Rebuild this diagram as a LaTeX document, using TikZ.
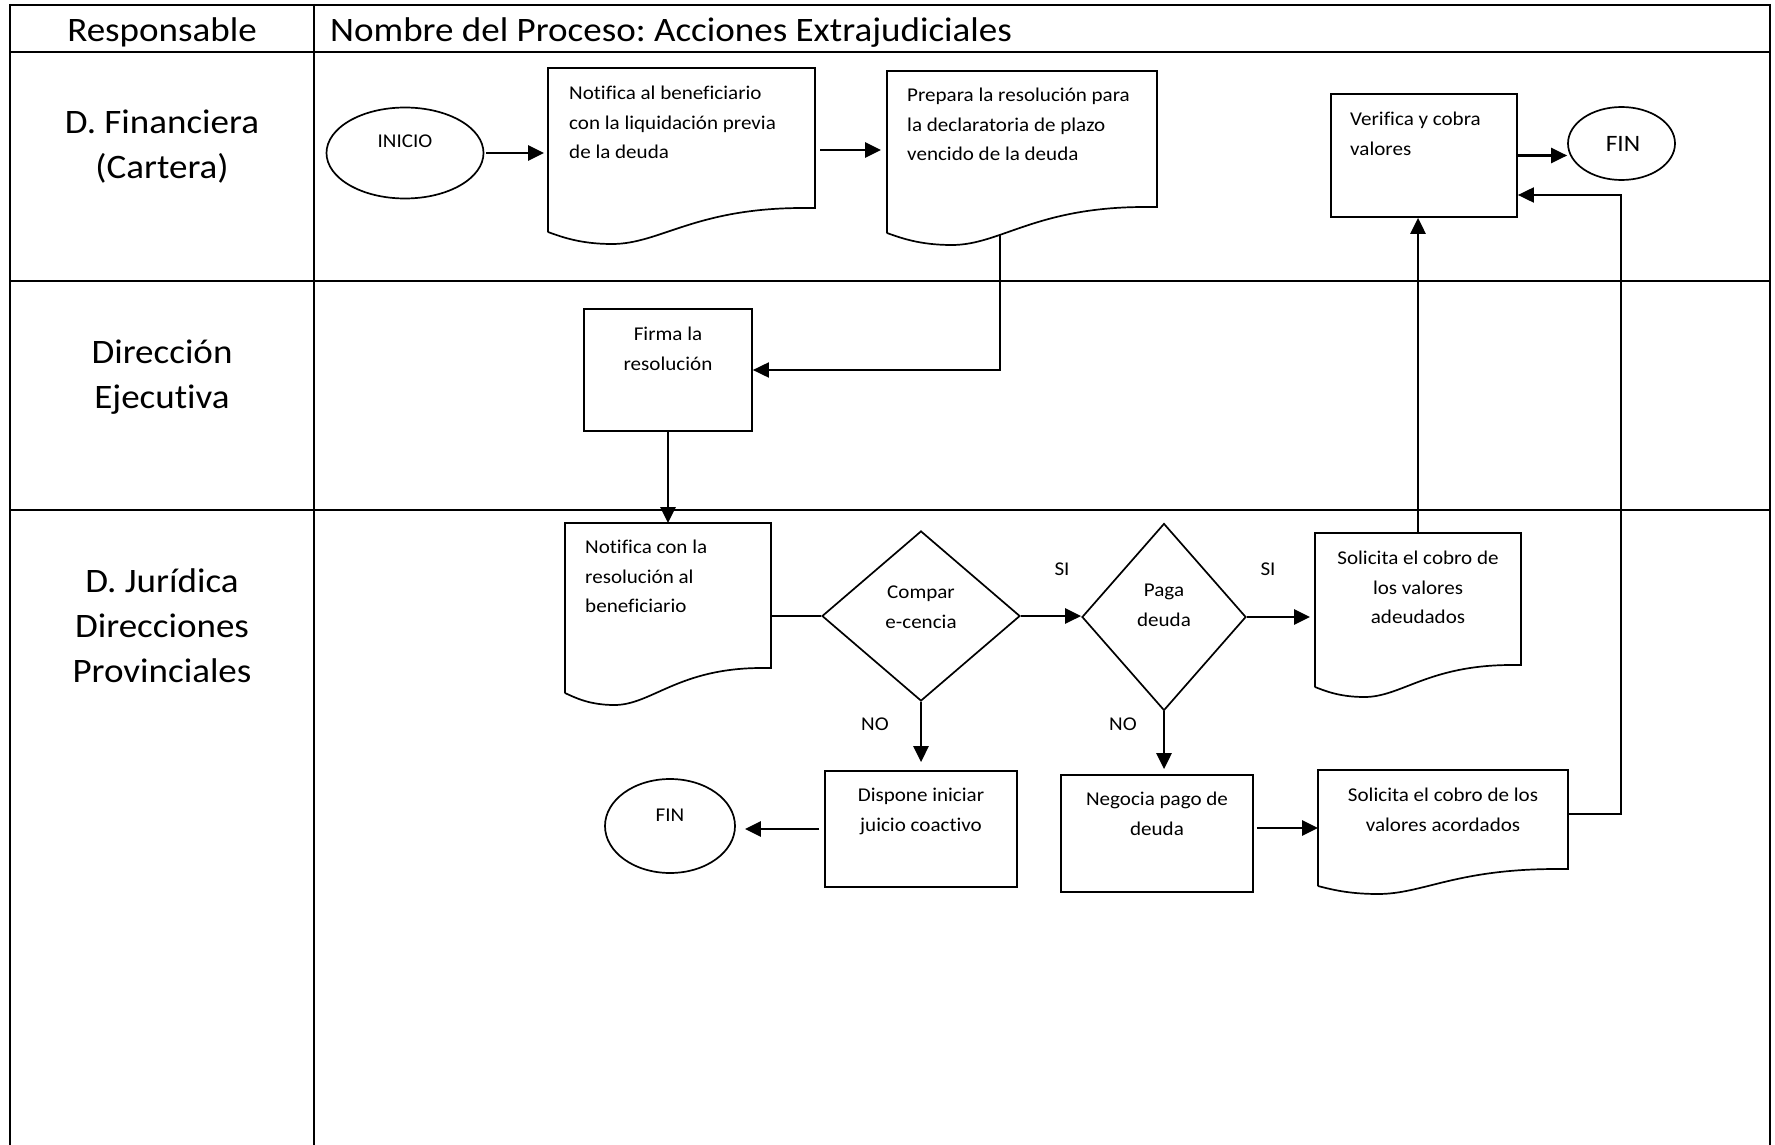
\documentclass[tikz,border=0pt]{standalone}
\usepackage{fontspec}
\setmainfont{Carlito}[FakeStretch=1.08, Ligatures=NoCommon]
\frenchspacing
\usetikzlibrary{arrows.meta,shapes.geometric,fit}
\tikzset{
  tabh/.style={line width=2.6pt},
  tabv/.style={line width=2pt},
  shapeline/.style={line width=1.7pt, line join=miter},
  boxnode/.style={draw, rectangle, shapeline, inner sep=0pt},
  ellnode/.style={draw, ellipse, shapeline, inner sep=0pt},
  dianode/.style={draw, diamond, shapeline, inner sep=0pt},
  docnode/.style={inner sep=0pt, outer sep=0pt},
  arr/.style={line width=2.8pt, -{Triangle[length=16pt,width=15pt]}},
  thinarr/.style={line width=1.9pt, -{Triangle[length=16pt,width=15pt]}},
  thinline/.style={line width=1.9pt},
  bigtxt/.style={font=\fontsize{34.3}{45}\selectfont, inner sep=0pt},
  smalltxt/.style={font=\fontsize{19.5}{29.5}\selectfont, inner sep=0pt},
  fintxt/.style={font=\fontsize{23.5}{28}\selectfont, inner sep=0pt},
}
\newcommand{\docshape}[7]{%
  \node[docnode, fit={(#2,#3) (#4,#6)}] (#1) {};
  \draw[shapeline] (#2,#6) -- (#2,#3) -- (#4,#3) -- (#4,#5) -- ({#4-0.045*(#4-#2)},#5)
    .. controls ({#2+0.55*(#4-#2)},#5) and ({#2+0.42*(#4-#2)},#7) .. ({#2+0.24*(#4-#2)},#7)
    .. controls ({#2+0.12*(#4-#2)},#7) and ({#2+0.05*(#4-#2)},{#6+0.4*(#7-#6)}) .. (#2,#6);
}
\begin{document}
\begin{tikzpicture}[x=1pt,y=-1pt]
\useasboundingbox (0,0) rectangle (1775,1145);
\fill[white] (0,0) rectangle (1775,1145);

% table
\draw[tabh] (10,5) -- (1770,5);
\draw[tabh] (10,52) -- (1770,52);
\draw[tabh] (10,281) -- (1770,281);
\draw[tabh] (10,510) -- (1770,510);
\draw[tabv] (10,4) -- (10,1145);
\draw[tabv] (314,4) -- (314,1145);
\draw[tabv] (1770,4) -- (1770,1145);

% header and lane labels
\node[bigtxt, anchor=base] (hresp) at (162,42) {Responsable};
\node[bigtxt, anchor=base west] (hproc) at (330,42) {Nombre del Proceso: Acciones Extrajudiciales};
\node[bigtxt, anchor=north, align=center] (lane1) at (162,102) {\strut D. Financiera\\(Cartera)};
\node[bigtxt, anchor=north, align=center] (lane2) at (162,331.5) {\strut Dirección\\Ejecutiva};
\node[bigtxt, anchor=north, align=center] (lane3) at (162,560.5) {\strut D. Jurídica\\Direcciones\\Provinciales};

% lane 1 shapes
\node[ellnode, minimum width=157pt, minimum height=91pt] (inicio) at (405,153) {};
\node[smalltxt, anchor=base] (tinicio) at (405,148) {INICIO};
\docshape{doc1}{548}{68}{815}{208}{232}{244}
\node[smalltxt, anchor=north west, align=left] (tdoc1) at (569,79) {\strut Notifica al beneficiario\\con la liquidación previa\\de la deuda};
\docshape{doc2}{887}{71}{1157}{207}{233}{245}
\node[smalltxt, anchor=north west, align=left] (tdoc2) at (907,81) {\strut Prepara la resolución para\\la declaratoria de plazo\\vencido de la deuda};
\node[boxnode, minimum width=186pt, minimum height=123pt] (ver) at (1424,155.5) {};
\node[smalltxt, anchor=north west, align=left] (tver) at (1350,105) {\strut Verifica y cobra\\valores};
\node[ellnode, minimum width=107pt, minimum height=73pt] (fin1) at (1621.5,143.5) {};
\node[fintxt, anchor=base] (tfin1) at (1623,152) {FIN};

% lane 2
\node[boxnode, minimum width=168pt, minimum height=122pt] (firma) at (668,370) {};
\node[smalltxt, anchor=north, align=center] (tfirma) at (668,320) {\strut Firma la\\resolución};

% lane 3
\docshape{doc3}{565}{523}{771}{668}{693}{705}
\node[smalltxt, anchor=north west, align=left] (tdoc3) at (585,533) {\strut Notifica con la\\resolución al\\beneficiario};
\node[dianode, minimum width=198pt, minimum height=170pt] (dia1) at (921,616) {};
\node[smalltxt, anchor=north, align=center] (tdia1) at (921,578) {\strut Compar\\e-cencia};
\node[dianode, minimum width=164pt, minimum height=187pt] (dia2) at (1164,617) {};
\node[smalltxt, anchor=north, align=center] (tdia2) at (1164,576) {\strut Paga\\deuda};
\docshape{doc4}{1315}{533}{1521}{665}{687}{697}
\node[smalltxt, anchor=north, align=center] (tdoc4) at (1418,544) {\strut Solicita el cobro de\\los valores\\adeudados};
\node[boxnode, minimum width=192pt, minimum height=116pt] (disp) at (921,829) {};
\node[smalltxt, anchor=north, align=center] (tdisp) at (921,781) {\strut Dispone iniciar\\juicio coactivo};
\node[boxnode, minimum width=192pt, minimum height=117pt] (neg) at (1157,833.5) {};
\node[smalltxt, anchor=north, align=center] (tneg) at (1157,785) {\strut Negocia pago de\\deuda};
\docshape{doc5}{1318}{770}{1568}{869}{886}{894}
\node[smalltxt, anchor=north, align=center] (tdoc5) at (1443,781) {\strut Solicita el cobro de los\\valores acordados};
\node[ellnode, minimum width=130pt, minimum height=94pt] (fin2) at (670,826) {};
\node[smalltxt, anchor=base] (tfin2) at (670,821) {FIN};

% labels
\node[smalltxt, anchor=base] (si1) at (1062,575) {SI};
\node[smalltxt, anchor=base] (si2) at (1268,575) {SI};
\node[smalltxt, anchor=base] (no1) at (875,730) {NO};
\node[smalltxt, anchor=base] (no2) at (1123,730) {NO};

% connectors
\draw[arr, shorten <=2pt, shorten >=4pt] (inicio.east) -- (inicio.east -| doc1.west);
\draw[arr, shorten <=5pt, shorten >=6pt] (doc1.east) -- (doc1.east -| doc2.west);
\draw[arr] (ver.east) -- (ver.east -| fin1.west);
\coordinate (d2out) at (1000,235);
\draw[thinarr] (d2out) |- (firma.east);
\draw[arr] (firma.south) -- (firma.south |- doc3.north);
\draw[thinline] (dia1.west -| doc3.east) -- (dia1.west);
\draw[arr] (dia1.east) -- (dia1.east -| dia2.west);
\draw[arr, shorten >=8pt] (dia1.south) -- (dia1.south |- disp.north);
\draw[arr, shorten >=5pt] (dia2.east) -- (dia2.east -| doc4.west);
\draw[arr, shorten >=5pt] (dia2.south) -- (dia2.south |- neg.north);
\draw[arr, shorten <=3pt] (doc5.west -| neg.east) -- (doc5.west);
\draw[arr] (doc4.north) -- (doc4.north |- ver.south);
\coordinate (r1) at (1621,814);
\coordinate (r2) at (1621,195);
\draw[thinarr] (r1 -| doc5.east) -- (r1) -- (r2) -- (r2 -| ver.east);
\draw[arr, shorten <=5pt, shorten >=9pt] (disp.west) -- (disp.west -| fin2.east);
\end{tikzpicture}
\end{document}
